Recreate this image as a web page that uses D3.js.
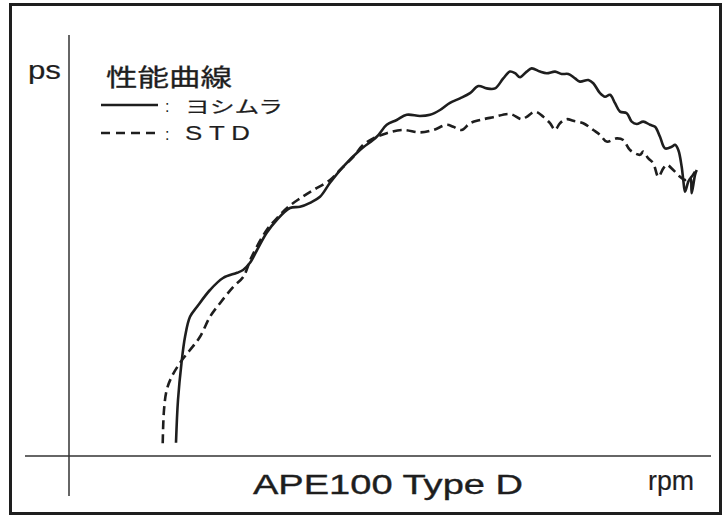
<!DOCTYPE html>
<html>
<head>
<meta charset="utf-8">
<script src="https://cdn.jsdelivr.net/npm/d3@7"></script>
<style>
  html, body { margin: 0; padding: 0; background: #fff; }
  svg { display: block; }
</style>
</head>
<body>
<svg id="chart" width="727" height="518"></svg>
<script>
// ---- data (rpm, ps) ----
const yoshimuraRpm = [3350,3375,3419,3463,3525,3613,3775,3938,4113,4188,4275,4363,4484,4609,4775,4900,5025,5150,5275,5438,5650,5859,5984,6109,6234,6400,6525,6650,6775,6900,7025,7129,7234,7338,7441,7525,7588,7650,7734,7796,7900,7984,8088,8171,8254,8338,8400,8504,8566,8650,8713,8775,8838,8900,8984,9046,9109,9191,9275,9338,9400,9463,9546,9588,9629,9671,9691,9713,9754,9784,9796,9838,9859];
const yoshimuraPs  = [0.33,1.40,2.33,2.98,3.48,3.73,4.15,4.45,4.58,4.65,4.83,5.15,5.58,5.90,6.20,6.23,6.33,6.48,6.83,7.23,7.65,7.98,8.28,8.40,8.53,8.50,8.53,8.65,8.83,8.94,9.07,9.25,9.19,9.19,9.44,9.61,9.57,9.47,9.61,9.69,9.61,9.57,9.61,9.55,9.55,9.44,9.36,9.40,9.32,9.07,8.98,9.03,8.82,8.61,8.57,8.36,8.30,8.36,8.28,8.23,7.98,7.69,7.73,7.78,7.65,7.23,6.90,6.61,6.86,6.95,6.57,7.03,7.15];

const stdRpm = [3184,3200,3234,3296,3400,3525,3650,3775,3900,4066,4191,4296,4484,4629,4754,4900,5066,5275,5400,5566,5691,5816,5984,6191,6400,6566,6734,6816,6921,7025,7150,7316,7525,7671,7734,7838,7941,8025,8088,8150,8234,8316,8441,8566,8650,8734,8859,8941,9025,9150,9191,9254,9316,9379,9441,9484,9566,9650,9713,9775,9838];
const stdPs  = [0.32,1.15,1.65,1.98,2.33,2.65,2.98,3.48,3.82,4.23,4.48,4.98,5.65,5.98,6.23,6.44,6.65,6.90,7.15,7.48,7.78,7.94,8.07,8.15,8.09,8.15,8.28,8.23,8.15,8.32,8.40,8.47,8.55,8.42,8.48,8.61,8.48,8.32,8.15,8.32,8.42,8.38,8.32,8.15,8.03,7.86,7.94,7.90,7.65,7.53,7.61,7.44,7.32,6.98,7.19,7.28,7.15,6.98,6.90,6.94,7.11];

const rpmDomain = [2000, 10000];
const psDomain  = [0, 10];

const titleText = "性能曲線";
const seriesNames = ["ヨシムラ", "S T D"];
const yLabel = "ps";
const xLabel = "rpm";
const modelText = "APE100 Type D";

// ---- drawing ----
const svg = d3.select("#chart");
const ink = "#1e1e1e";
const x = d3.scaleLinear().domain(rpmDomain).range([68, 708]);
const y = d3.scaleLinear().domain(psDomain).range([456, 56]);

// frame
svg.append("rect").attr("x", 10.5).attr("y", 4.5).attr("width", 710).attr("height", 509)
  .attr("fill", "none").attr("stroke", ink).attr("stroke-width", 3);

// axes (plain lines, no ticks)
svg.append("line").attr("x1", 69).attr("x2", 69).attr("y1", 35).attr("y2", 496)
  .attr("stroke", "#333").attr("stroke-width", 1.5);
svg.append("line").attr("x1", 25).attr("x2", 711).attr("y1", 456).attr("y2", 456)
  .attr("stroke", "#333").attr("stroke-width", 1.5);

const line = d3.line().x(d => x(d[0])).y(d => y(d[1])).curve(d3.curveCatmullRom.alpha(0.5));

const yosh = yoshimuraRpm.map((r, i) => [r, yoshimuraPs[i]]);
const std = stdRpm.map((r, i) => [r, stdPs[i]]);

svg.append("path").datum(std).attr("d", line)
  .attr("fill", "none").attr("stroke", ink).attr("stroke-width", 2.6)
  .attr("stroke-dasharray", "9,5");
svg.append("path").datum(yosh).attr("d", line)
  .attr("fill", "none").attr("stroke", ink).attr("stroke-width", 2.6)
  .attr("stroke-linejoin", "round");

// texts
const latin = "'Liberation Sans', Arial, sans-serif";
const cjk = "'Noto Sans CJK JP', sans-serif";

function label(txt, px, py, family, size, len, sw) {
  return svg.append("text").text(txt).attr("x", px).attr("y", py)
    .attr("font-family", family).attr("font-size", size).attr("fill", ink)
    .attr("stroke", ink).attr("stroke-width", sw)
    .attr("textLength", len).attr("lengthAdjust", "spacingAndGlyphs");
}

label(yLabel, 28, 79, latin, 26, 33, 0.2);
label(titleText, 106, 86, cjk, 24, 126, 0.3);

// legend
svg.append("line").attr("x1", 101).attr("x2", 158).attr("y1", 105).attr("y2", 105)
  .attr("stroke", ink).attr("stroke-width", 2.6);
svg.append("line").attr("x1", 101).attr("x2", 158).attr("y1", 133).attr("y2", 133)
  .attr("stroke", ink).attr("stroke-width", 2.6).attr("stroke-dasharray", "9,6");

[112, 140].forEach(by => {
  svg.append("text").text(":").attr("x", 165).attr("y", by)
    .attr("font-family", latin).attr("font-size", 16).attr("fill", ink);
});

label(seriesNames[0], 185, 113, cjk, 17, 98, 0.2);
label(seriesNames[1], 185, 140, latin, 21, 65, 0.2);

label(modelText, 253, 494, latin, 28, 270, 0.35);
label(xLabel, 648, 490, latin, 28, 46, 0.2);
</script>
</body>
</html>
